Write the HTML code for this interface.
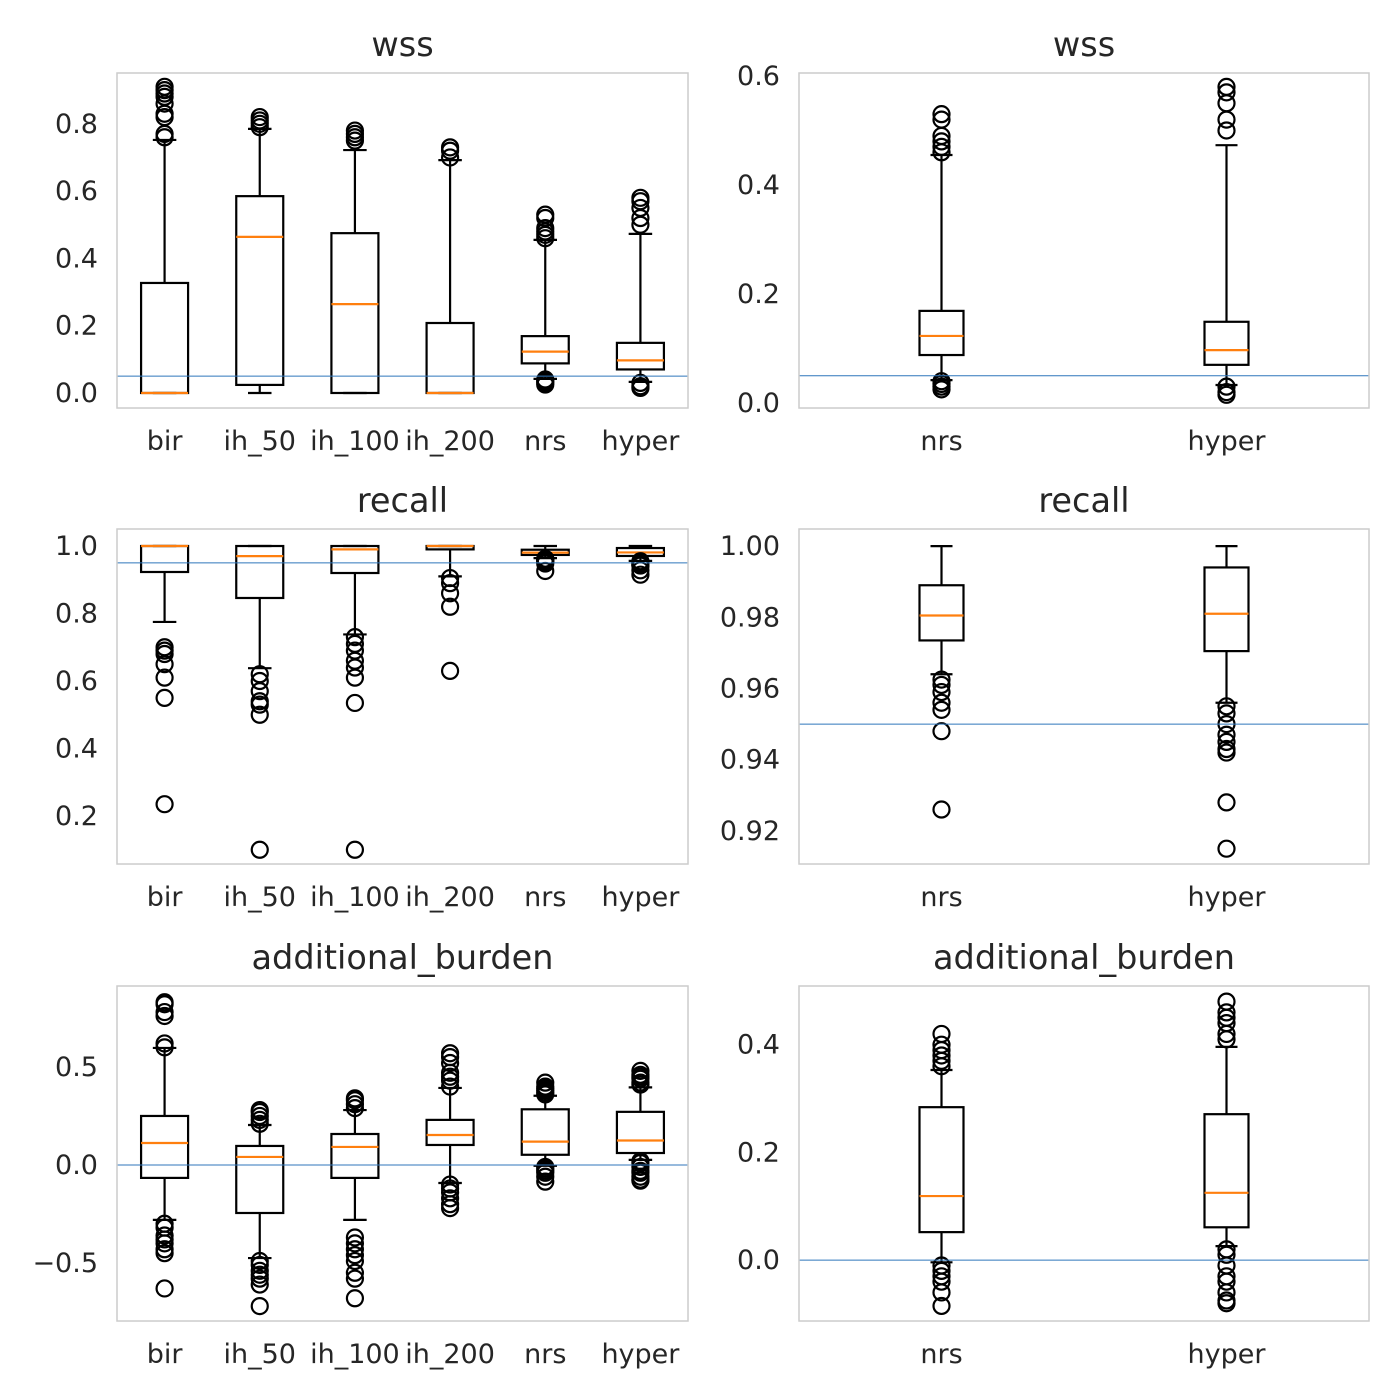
<!DOCTYPE html>
<html><head><meta charset="utf-8"><style>
body{margin:0;background:#fff}
svg{display:block}
text{font-family:"DejaVu Sans","Liberation Sans",sans-serif;fill:#262626}
</style></head><body>
<svg id="chart" width="1400" height="1400" viewBox="0 0 1400 1400"></svg>
<script>
// ---- data ----
const catsAll = ["bir","ih_50","ih_100","ih_200","nrs","hyper"];
const catsPair = ["nrs","hyper"];
// each stat row: [lowWhisker, q1, median, q3, highWhisker]
const wssStats = [[0,0,0,0.327,0.752],[0,0.024,0.464,0.585,0.785],[0,0,0.264,0.475,0.722],[0,0,0,0.208,0.692],[0.042,0.088,0.123,0.169,0.455],[0.033,0.07,0.097,0.149,0.473]];
const wssOut = [[0.76,0.77,0.82,0.83,0.86,0.88,0.89,0.9,0.91],[0.79,0.8,0.81,0.82],[0.75,0.76,0.77,0.78],[0.70,0.72,0.73],[0.46,0.47,0.48,0.49,0.52,0.53,0.04,0.035,0.03,0.025],[0.5,0.52,0.55,0.57,0.58,0.03,0.02,0.015]];
const recallStats = [[0.775,0.923,1,1,1],[0.638,0.846,0.97,1,1],[0.738,0.92,0.99,1,1],[0.91,0.99,1,1,1],[0.964,0.9735,0.9805,0.989,1],[0.956,0.9705,0.981,0.994,1]];
const recallOut = [[0.70,0.69,0.68,0.65,0.61,0.55,0.235],[0.62,0.6,0.57,0.54,0.53,0.50,0.10],[0.73,0.71,0.69,0.66,0.64,0.61,0.535,0.10],[0.905,0.89,0.86,0.82,0.63],[0.9625,0.961,0.959,0.956,0.954,0.948,0.926],[0.955,0.953,0.95,0.947,0.945,0.943,0.942,0.928,0.915]];
const burdenStats = [[-0.28,-0.066,0.112,0.25,0.597],[-0.475,-0.245,0.041,0.097,0.204],[-0.28,-0.066,0.092,0.158,0.28],[-0.092,0.102,0.153,0.23,0.393],[-0.004,0.052,0.119,0.284,0.353],[0.026,0.061,0.125,0.271,0.396]];
const burdenOut = [[0.60,0.62,0.76,0.78,0.82,0.83,-0.30,-0.32,-0.36,-0.38,-0.40,-0.43,-0.45,-0.63],[0.21,0.23,0.25,0.27,0.28,-0.49,-0.51,-0.54,-0.56,-0.58,-0.61,-0.72],[0.29,0.31,0.33,0.34,-0.37,-0.40,-0.43,-0.46,-0.49,-0.55,-0.58,-0.68],[0.40,0.43,0.45,0.47,0.52,0.55,0.57,-0.10,-0.12,-0.14,-0.17,-0.20,-0.22],[0.36,0.37,0.38,0.39,0.40,0.42,-0.01,-0.02,-0.03,-0.04,-0.06,-0.085],[0.41,0.42,0.44,0.45,0.46,0.48,0.02,0.01,-0.01,-0.03,-0.04,-0.06,-0.075,-0.08]];
const wssTicksL = [0,0.2,0.4,0.6,0.8];
const wssTicksR = [0,0.2,0.4,0.6];
const recallTicksL = [0.2,0.4,0.6,0.8,1.0];
const recallTicksR = [0.92,0.94,0.96,0.98,1.00];
const burdenTicksL = [-0.5,0,0.5];
const burdenTicksR = [0,0.2,0.4];
const refWss = 0.05, refRecall = 0.95, refBurden = 0;

const svg = document.getElementById('chart');
const NS = 'http://www.w3.org/2000/svg';
function mk(tag, attrs, parent){const e=document.createElementNS(NS,tag);for(const k in attrs)e.setAttribute(k,attrs[k]);(parent||svg).appendChild(e);return e;}
function fmt(v,d){const s=Math.abs(v).toFixed(d);return v<0?'\u2212'+s:s;}

function panel(o){
  const g = mk('g',{});
  
  
  const y = v => o.y1 - (v - o.min)/(o.max - o.min)*(o.y1 - o.y0);
  const n = o.cats.length, step = (o.x1 - o.x0)/n;
  const x = i => o.x0 + step*(i+0.5);
  const t = mk('text',{x:(o.x0+o.x1)/2,y:o.y0-17,'text-anchor':'middle','font-size':33.5},g);
  t.textContent = o.title;
  
  
  o.ticks.forEach(v=>{
    const tt = mk('text',{x:o.x0-19,y:y(v)+9,'text-anchor':'end','font-size':27},g);
    tt.textContent = fmt(v,o.dec);
    
    
  });
  o.cats.forEach((c,i)=>{
    const tt = mk('text',{x:x(i),y:o.y1+42,'text-anchor':'middle','font-size':27},g);
    tt.textContent = c;
    
    
    const s = o.stats[i], hw=o.bw/2, cw=o.bw/4, cx=x(i);
    const b = mk('g',{stroke:'#000','stroke-width':2.2,fill:'none'},g);
    
    
    mk('line',{x1:cx,x2:cx,y1:y(s[0]),y2:y(s[1])},b);
    mk('line',{x1:cx,x2:cx,y1:y(s[3]),y2:y(s[4])},b);
    mk('line',{x1:cx-cw,x2:cx+cw,y1:y(s[0]),y2:y(s[0])},b);
    mk('line',{x1:cx-cw,x2:cx+cw,y1:y(s[4]),y2:y(s[4])},b);
    mk('rect',{x:cx-hw,y:y(s[3]),width:o.bw,height:Math.max(0,y(s[1])-y(s[3]))},b);
    mk('line',{x1:cx-hw,x2:cx+hw,y1:y(s[2]),y2:y(s[2]),stroke:'#ff7f0e'},b);
    o.out[i].forEach(v=>{
      const c2 = mk('circle',{cx:cx,cy:y(v),r:8},b);
      
      
    });
  });
  const rl = mk('line',{x1:o.x0,x2:o.x1,y1:y(o.ref),y2:y(o.ref),stroke:'#2f76bb','stroke-width':1},g);
  
  
  const fr = mk('rect',{x:o.x0,y:o.y0,width:o.x1-o.x0,height:o.y1-o.y0,fill:'none',stroke:'#cccccc','stroke-width':1.5},g);
  
  
}
const L={x0:117,x1:688,bw:47}, R={x0:799,x1:1369,bw:44};
panel({...L,y0:73,y1:408,min:-0.0446,max:0.951,title:'wss',name:'wss-all-panel',cats:catsAll,stats:wssStats,out:wssOut,ticks:wssTicksL,dec:1,ref:refWss});
panel({...R,y0:73,y1:408,min:-0.0092,max:0.6055,title:'wss',name:'wss-pair-panel',cats:catsPair,stats:wssStats.slice(4),out:wssOut.slice(4),ticks:wssTicksR,dec:1,ref:refWss});
panel({...L,y0:529,y1:864,min:0.0578,max:1.0504,title:'recall',name:'recall-all-panel',cats:catsAll,stats:recallStats,out:recallOut,ticks:recallTicksL,dec:1,ref:refRecall});
panel({...R,y0:529,y1:864,min:0.9107,max:1.0048,title:'recall',name:'recall-pair-panel',cats:catsPair,stats:recallStats.slice(4),out:recallOut.slice(4),ticks:recallTicksR,dec:2,ref:refRecall});
panel({...L,y0:986,y1:1321,min:-0.796,max:0.913,title:'additional_burden',name:'burden-all-panel',cats:catsAll,stats:burdenStats,out:burdenOut,ticks:burdenTicksL,dec:1,ref:refBurden});
panel({...R,y0:986,y1:1321,min:-0.113,max:0.509,title:'additional_burden',name:'burden-pair-panel',cats:catsPair,stats:burdenStats.slice(4),out:burdenOut.slice(4),ticks:burdenTicksR,dec:1,ref:refBurden});
</script>
</body></html>
